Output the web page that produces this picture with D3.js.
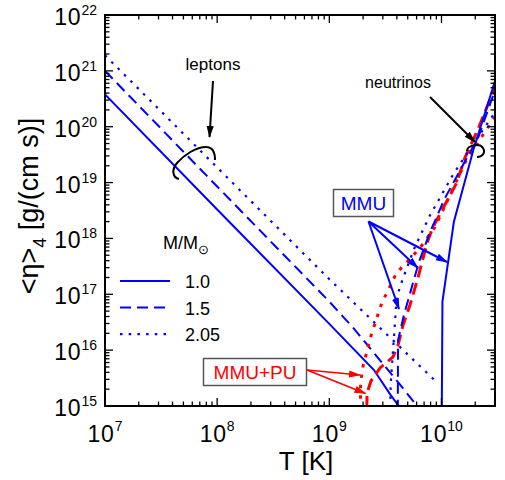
<!DOCTYPE html>
<html>
<head>
<meta charset="utf-8">
<script src="https://cdn.jsdelivr.net/npm/d3@7"></script>
<style>
  html, body { margin: 0; padding: 0; background: #fff; }
  svg { display: block; }
  text { font-family: Arial, "Liberation Sans", Helvetica, sans-serif; }
</style>
</head>
<body>
<svg id="chart" width="505" height="480"></svg>
<script>
// Temperature T [K] and <eta>_4 [g/(cm s)] for each curve.
// Lepton contributions (falling with T), one per stellar mass.
const lepton10T   = [1e7, 1e8, 1e9, 2.5e9, 3.5e9, 4.3e9, 5.5e9];
const lepton10Eta = [3.8e20, 3.3e18, 2.95e16, 4.4e15, 1.6e15, 9.2e14, 4.6e14];
const lepton15T   = [1e7, 1e8, 1e9, 1.65e9, 2.25e9, 4.15e9, 6.1e9, 8e9];
const lepton15Eta = [1.0e21, 8.5e18, 7.4e16, 2.45e16, 1.15e16, 2.6e15, 9.8e14, 5e14];
const lepton205T   = [1e7, 1e8, 1e9, 9e9];
const lepton205Eta = [1.9e21, 1.86e19, 1.86e17, 2.7e15];

// Neutrino contributions, modified Urca (MMU).
const mmu10T   = [1.0e10, 1.02e10, 1.29e10, 1.92e10, 3.0e10];
const mmu10Eta = [1e14, 7.4e16, 2.0e18, 3.8e19, 6.6e20];
const mmu15T   = [4.06e9, 4.1e9, 4.63e9, 5.35e9, 6.3e9, 7.9e9, 1.07e10, 1.52e10, 2.12e10, 3.0e10];
const mmu15Eta = [1e14, 1.5e16, 4.3e16, 1.2e17, 3.8e17, 1.3e18, 5.2e18, 1.9e19, 6.3e19, 4.5e20];
const mmu205T   = [3.44e9, 3.52e9, 3.7e9, 3.99e9, 4.54e9, 5.8e9, 7.9e9, 1.27e10, 2.03e10, 3.0e10];
const mmu205Eta = [1e14, 2.4e15, 1.0e16, 8.9e16, 1.95e17, 7.1e17, 2.6e18, 1.4e19, 5.8e19, 1.8e20];

// Neutrino contributions, modified Urca with proton superfluidity (MMU+PU).
const pu15T   = [2.12e9, 2.17e9, 2.35e9, 2.83e9, 3.7e9, 4.1e9, 4.54e9, 5.24e9, 6.18e9, 7.43e9, 8.4e9, 1.37e10, 1.62e10, 2.1e10, 2.62e10, 3.0e10];
const pu15Eta = [1e14, 1.7e15, 2.8e15, 4.8e15, 7.6e15, 1.23e16, 2.8e16, 6.5e16, 2.0e17, 8.3e17, 1.6e18, 1.0e19, 2.8e19, 8.7e19, 2.6e20, 4.9e20];
const pu205T   = [1.88e9, 1.9e9, 1.99e9, 2.36e9, 2.93e9, 3.99e9, 5.43e9, 6.89e9, 8.75e9, 1.66e10, 2.5e10, 3.0e10];
const pu205Eta = [1e14, 2.6e15, 5.0e15, 1.86e16, 6.9e16, 2.45e17, 4.6e17, 8.1e17, 1.6e18, 2.5e19, 8.7e19, 1.5e20];

// Axis decades and legend entries.
const xDecades = [7, 8, 9, 10];
const yDecades = [15, 16, 17, 18, 19, 20, 21, 22];
const legendLabels = ["1.0", "1.5", "2.05"];

const svg = d3.select("#chart");
const L = 105, R = 495, T = 15, B = 406;

const x = d3.scaleLog().domain([1e7, 3e10]).range([L, R]);
const y = d3.scaleLog().domain([1e15, 1e22]).range([B, T]);

const BLUE = "#0000ff", RED = "#ff0000";

svg.append("defs").append("clipPath").attr("id", "plotClip")
  .append("rect").attr("x", L).attr("y", T).attr("width", R - L).attr("height", B - T);

const defs = svg.select("defs");
function arrowMarker(id, color) {
  defs.append("marker").attr("id", id)
    .attr("markerUnits", "userSpaceOnUse")
    .attr("viewBox", "0 -5 12 10")
    .attr("refX", 11).attr("refY", 0)
    .attr("markerWidth", 12).attr("markerHeight", 10)
    .attr("orient", "auto")
    .append("path").attr("d", "M0,-3.6L12,0L0,3.6Z").attr("fill", color);
}
arrowMarker("arrBlue", BLUE);
arrowMarker("arrRed", RED);
arrowMarker("arrBlack", "#000");

// Curves
const line = d3.line().x(d => x(d[0])).y(d => y(d[1]));
const plot = svg.append("g").attr("clip-path", "url(#plotClip)");

const series = [
  { T: lepton10T,  eta: lepton10Eta,  color: BLUE, w: 2,   dash: null },
  { T: lepton15T,  eta: lepton15Eta,  color: BLUE, w: 2,   dash: "11,6" },
  { T: lepton205T, eta: lepton205Eta, color: BLUE, w: 2.2, dash: "2.5,6.5" },
  { T: pu205T, eta: pu205Eta, color: RED, w: 3,   dash: "3.5,7" },
  { T: pu15T,  eta: pu15Eta,  color: RED, w: 3,   dash: "12,6" },
  { T: mmu205T, eta: mmu205Eta, color: BLUE, w: 2.2, dash: "2.5,6.5" },
  { T: mmu15T,  eta: mmu15Eta,  color: BLUE, w: 2,   dash: "11,6" },
  { T: mmu10T,  eta: mmu10Eta,  color: BLUE, w: 2,   dash: null }
];
series.forEach(s => {
  plot.append("path")
    .attr("d", line(d3.zip(s.T, s.eta)))
    .attr("fill", "none")
    .attr("stroke", s.color)
    .attr("stroke-width", s.w)
    .attr("stroke-dasharray", s.dash);
});

// Ticks (inward on all four sides)
const axes = svg.append("g").attr("stroke", "#000").attr("stroke-width", 1.3);
const xMinor = [], yMinor = [];
xDecades.forEach(d => { for (let k = 2; k <= 9; k++) { const v = k * Math.pow(10, d); if (v < 3e10) xMinor.push(v); } });
yDecades.slice(0, -1).forEach(d => { for (let k = 2; k <= 9; k++) yMinor.push(k * Math.pow(10, d)); });
const MAJ = 8, MIN = 4.5;
xDecades.forEach(d => {
  const px = x(Math.pow(10, d));
  axes.append("line").attr("x1", px).attr("x2", px).attr("y1", B).attr("y2", B - MAJ);
  axes.append("line").attr("x1", px).attr("x2", px).attr("y1", T).attr("y2", T + MAJ);
});
xMinor.forEach(v => {
  const px = x(v);
  axes.append("line").attr("x1", px).attr("x2", px).attr("y1", B).attr("y2", B - MIN);
  axes.append("line").attr("x1", px).attr("x2", px).attr("y1", T).attr("y2", T + MIN);
});
yDecades.forEach(d => {
  const py = y(Math.pow(10, d));
  axes.append("line").attr("y1", py).attr("y2", py).attr("x1", L).attr("x2", L + MAJ);
  axes.append("line").attr("y1", py).attr("y2", py).attr("x1", R).attr("x2", R - MAJ);
});
yMinor.forEach(v => {
  const py = y(v);
  axes.append("line").attr("y1", py).attr("y2", py).attr("x1", L).attr("x2", L + MIN);
  axes.append("line").attr("y1", py).attr("y2", py).attr("x1", R).attr("x2", R - MIN);
});
svg.append("rect").attr("x", L).attr("y", T).attr("width", R - L).attr("height", B - T)
  .attr("fill", "none").attr("stroke", "#000").attr("stroke-width", 2);

// Tick labels
xDecades.forEach(d => {
  const t = svg.append("text").attr("x", x(Math.pow(10, d))).attr("y", B + 36)
    .attr("text-anchor", "middle").attr("font-size", 23).attr("letter-spacing", 0.8).attr("fill", "#000");
  t.append("tspan").text("10");
  t.append("tspan").attr("dy", -11).attr("font-size", 14).attr("letter-spacing", 0).text(d);
});
yDecades.forEach(d => {
  const t = svg.append("text").attr("x", 97).attr("y", y(Math.pow(10, d)) + 10)
    .attr("text-anchor", "end").attr("font-size", 23).attr("letter-spacing", 0.8).attr("fill", "#000");
  t.append("tspan").text("10");
  t.append("tspan").attr("dy", -10).attr("font-size", 14).attr("letter-spacing", 0).text(d);
});

// Axis titles
svg.append("text").attr("x", 306).attr("y", 470).attr("text-anchor", "middle")
  .attr("font-size", 26).text("T [K]");
const yl = svg.append("text").attr("transform", "translate(38,206) rotate(-90)")
  .attr("text-anchor", "middle").attr("font-size", 27);
yl.append("tspan").text("<η>");
yl.append("tspan").attr("dy", 8).attr("font-size", 18).text("4");
yl.append("tspan").attr("dy", -8).text(" [g/(cm s)]");

// Legend
const lg = svg.append("g");
const lt = lg.append("text").attr("x", 163).attr("y", 249).attr("font-size", 18);
lt.append("tspan").text("M/M");
lt.append("tspan").attr("dy", 5).attr("font-size", 13).text("⊙");
const legendStyles = [
  { dash: null, w: 2 }, { dash: "11,6", w: 2 }, { dash: "2.5,6.2", w: 2.2 }
];
legendLabels.forEach((lab, i) => {
  const ly = 281 + i * 26.6;
  lg.append("line").attr("x1", 120).attr("x2", 170).attr("y1", ly).attr("y2", ly)
    .attr("stroke", BLUE).attr("stroke-width", legendStyles[i].w)
    .attr("stroke-dasharray", legendStyles[i].dash);
  lg.append("text").attr("x", 185).attr("y", ly + 7).attr("font-size", 18).text(lab);
});

// Annotations: leptons
svg.append("text").attr("x", 213).attr("y", 70).attr("text-anchor", "middle")
  .attr("font-size", 17).text("leptons");
svg.append("line").attr("x1", 213).attr("y1", 81).attr("x2", 209.5).attr("y2", 137)
  .attr("stroke", "#000").attr("stroke-width", 2).attr("marker-end", "url(#arrBlack)");
svg.append("path")
  .attr("d", "M179,179 C173,178 171,170 177,163 C184,155 196,147 206,147 C213,147 215,152 215,160")
  .attr("fill", "none").attr("stroke", "#000").attr("stroke-width", 2);

// Annotations: neutrinos
svg.append("text").attr("x", 398).attr("y", 88).attr("text-anchor", "middle")
  .attr("font-size", 16).text("neutrinos");
svg.append("line").attr("x1", 430).attr("y1", 97).attr("x2", 475).attr("y2", 142)
  .attr("stroke", "#000").attr("stroke-width", 2).attr("marker-end", "url(#arrBlack)");
svg.append("path")
  .attr("d", "M467,151 C467,145 480,143 483,148 C486,153 482,157 477,157")
  .attr("fill", "none").attr("stroke", "#000").attr("stroke-width", 2);

// Annotations: MMU box and arrows
svg.append("rect").attr("x", 333.5).attr("y", 189.5).attr("width", 60).attr("height", 27)
  .attr("fill", "#fff").attr("stroke", "#555").attr("stroke-width", 1.5);
svg.append("text").attr("x", 363.5).attr("y", 210).attr("text-anchor", "middle")
  .attr("font-size", 19).attr("fill", BLUE).text("MMU");
[[399, 309], [418, 268], [447, 262]].forEach(p => {
  svg.append("line").attr("x1", 368.5).attr("y1", 221.5).attr("x2", p[0]).attr("y2", p[1])
    .attr("stroke", BLUE).attr("stroke-width", 2).attr("marker-end", "url(#arrBlue)");
});

// Annotations: MMU+PU box and arrows
svg.append("rect").attr("x", 203.5).attr("y", 358.5).attr("width", 103).attr("height", 27)
  .attr("fill", "#fff").attr("stroke", "#555").attr("stroke-width", 1.5);
svg.append("text").attr("x", 255).attr("y", 379).attr("text-anchor", "middle")
  .attr("font-size", 19).attr("fill", RED).text("MMU+PU");
[[360, 375], [365.5, 393.5]].forEach(p => {
  svg.append("line").attr("x1", 307).attr("y1", 370).attr("x2", p[0]).attr("y2", p[1])
    .attr("stroke", RED).attr("stroke-width", 1.6).attr("marker-end", "url(#arrRed)");
});
</script>
</body>
</html>
